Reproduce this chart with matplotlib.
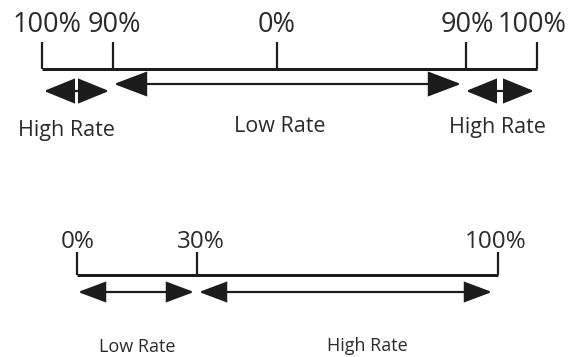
import matplotlib
matplotlib.use("Agg")
import matplotlib.pyplot as plt
from matplotlib.patches import FancyArrowPatch, ArrowStyle

# ---- data (diagram content) ----
top_tick_labels = ["100%", "90%", "0%", "90%", "100%"]
top_tick_pos = [42, 113, 277, 466, 537]          # layout (px)
top_label_pos = [47, 114, 277, 467, 532]
top_ranges = [("High Rate", 43, 110), ("Low Rate", 113, 462), ("High Rate", 465, 535)]
top_range_text = [(66, 136), (280, 132), (497, 133)]

bot_tick_labels = ["0%", "30%", "100%"]
bot_tick_pos = [77, 197, 498]
bot_label_pos = [78, 201, 496]
bot_ranges = [("Low Rate", 77, 195), ("High Rate", 198, 493)]
bot_range_text = [(137, 352), (367, 351)]

W, H = 575, 357
DPI = 100
PX = 72.0 / DPI   # points per pixel

plt.rcParams['font.family'] = ['Open Sans', 'DejaVu Sans']
LINE = "#1c1c1c"
TXT = "#2b2b2b"

fig = plt.figure(figsize=(W / DPI, H / DPI), dpi=DPI)
ax = fig.add_axes([0, 0, 1, 1])
ax.set_xlim(0, W)
ax.set_ylim(H, 0)
ax.axis("off")


def arrow(x0, x1, y, hl, hw, lw):
    st = ArrowStyle("<|-|>", head_length=hl * PX, head_width=hw * PX)
    p = FancyArrowPatch((x0, y), (x1, y), arrowstyle=st, mutation_scale=1,
                        shrinkA=0, shrinkB=0, lw=lw * PX, color=LINE,
                        joinstyle="miter")
    ax.add_patch(p)


def scale(tick_pos, labels, label_pos, base_y, tick_top, label_y, fs):
    ax.plot([tick_pos[0], tick_pos[-1]], [base_y, base_y], color=LINE,
            lw=3 * PX, solid_capstyle="butt")
    for x in tick_pos:
        ax.plot([x, x], [tick_top, base_y], color=LINE, lw=2.2 * PX,
                solid_capstyle="butt")
    for lab, x in zip(labels, label_pos):
        ax.text(x, label_y, lab, ha="center", va="baseline", fontsize=fs,
                color=TXT)


# top diagram
scale(top_tick_pos, top_tick_labels, top_label_pos, 69, 42, 32, 19.5)
for (name, x0, x1), (tx, ty) in zip(top_ranges, top_range_text):
    if name == "Low Rate":
        arrow(x0 + 1, x1 - 1, 84, 29, 11, 2.2)
    else:
        arrow(x0 + 1, x1 - 1, 91, 27, 11, 2.2)
    ax.text(tx, ty, name, ha="center", va="baseline", fontsize=15.5, color=TXT)

# bottom diagram
scale(bot_tick_pos, bot_tick_labels, bot_label_pos, 275, 252, 248, 17.5)
for (name, x0, x1), (tx, ty) in zip(bot_ranges, bot_range_text):
    arrow(x0 + 1, x1 - 1, 292, 24, 9, 2.2)
    ax.text(tx, ty, name, ha="center", va="baseline", fontsize=13, color=TXT)

fig.savefig("out.png", dpi=DPI, facecolor="white")
